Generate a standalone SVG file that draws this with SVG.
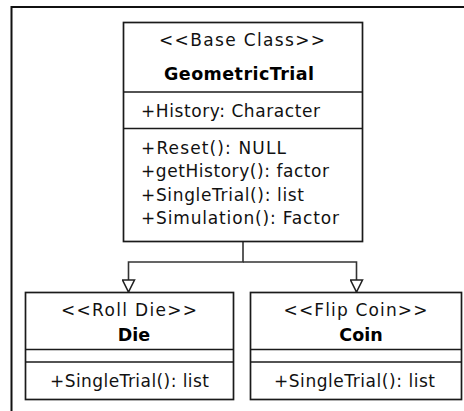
<svg xmlns="http://www.w3.org/2000/svg" width="464" height="411" viewBox="0 0 464 411">
<style>
.box{fill:#fff;stroke:#1a1a1a;stroke-width:1.7}
.div{stroke:#1a1a1a;stroke-width:1.7;fill:none}
.t{font-family:"DejaVu Sans",Verdana,sans-serif;font-size:17px;fill:#111}
.b{font-family:"DejaVu Sans",Verdana,sans-serif;font-size:17.5px;font-weight:bold;fill:#000}
.c{text-anchor:middle}
.conn{fill:none;stroke:#333;stroke-width:1.6}
</style>
<defs>
<marker id="tri" viewBox="0 0 14 14" refX="13" refY="7" markerWidth="14" markerHeight="14" markerUnits="userSpaceOnUse" orient="auto">
<path d="M1,1 L13,7 L1,13 Z" fill="#fff" stroke="#222" stroke-width="1.6"/>
</marker>
</defs>
<rect width="464" height="411" fill="#fff"/>
<path d="M11.5,411 V7 H464" fill="none" stroke="#111" stroke-width="2"/>
<g id="connectors">
<path class="conn" d="M243,242 V262 H128.5 V292" marker-end="url(#tri)"/>
<path class="conn" d="M243,262 H356.5 V292" marker-end="url(#tri)"/>
</g>
<g id="GeometricTrial">
<rect class="box" x="123.5" y="22.5" width="239" height="219"/>
<line class="div" x1="123.5" y1="92" x2="362.5" y2="92"/>
<line class="div" x1="123.5" y1="128.5" x2="362.5" y2="128.5"/>
<text class="t c" x="242" y="46" textLength="166">&lt;&lt;Base Class&gt;&gt;</text>
<text class="b c" x="239" y="79.5" textLength="150">GeometricTrial</text>
<text class="t" x="141" y="116.5" textLength="179">+History: Character</text>
<text class="t" x="141" y="153.5" textLength="145">+Reset(): NULL</text>
<text class="t" x="141" y="177" textLength="188">+getHistory(): factor</text>
<text class="t" x="141" y="200.5" textLength="163">+SingleTrial(): list</text>
<text class="t" x="141" y="223.5" textLength="198">+Simulation(): Factor</text>
</g>
<g id="Die">
<rect class="box" x="25.5" y="292.5" width="208" height="107"/>
<line class="div" x1="25.5" y1="349.5" x2="233.5" y2="349.5"/>
<line class="div" x1="25.5" y1="362" x2="233.5" y2="362"/>
<text class="t c" x="129" y="315.5" textLength="136">&lt;&lt;Roll Die&gt;&gt;</text>
<text class="b c" x="134" y="341">Die</text>
<text class="t c" x="129.5" y="387" textLength="159">+SingleTrial(): list</text>
</g>
<g id="Coin">
<rect class="box" x="250.5" y="292.5" width="211" height="107"/>
<line class="div" x1="250.5" y1="349.5" x2="461.5" y2="349.5"/>
<line class="div" x1="250.5" y1="362" x2="461.5" y2="362"/>
<text class="t c" x="355.5" y="315.5" textLength="144">&lt;&lt;Flip Coin&gt;&gt;</text>
<text class="b c" x="361" y="341">Coin</text>
<text class="t c" x="354.5" y="387" textLength="161">+SingleTrial(): list</text>
</g>
</svg>
